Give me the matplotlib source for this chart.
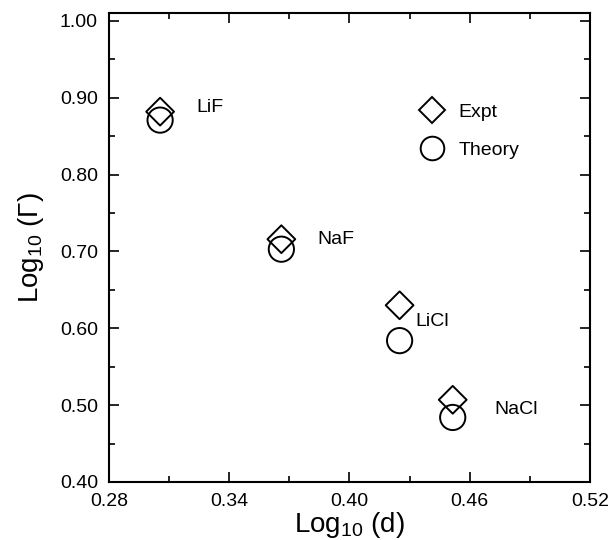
import matplotlib
matplotlib.use("Agg")
import matplotlib.pyplot as plt
from matplotlib.ticker import FixedLocator, FormatStrFormatter
from matplotlib.lines import Line2D

plt.rcParams['font.family'] = ['Liberation Sans', 'DejaVu Sans']
plt.rcParams['mathtext.fontset'] = 'custom'
plt.rcParams['mathtext.rm'] = 'Liberation Sans'
plt.rcParams['mathtext.it'] = 'Liberation Sans:italic'

salts = ["LiF", "NaF", "LiCl", "NaCl"]
log_d = [0.3055, 0.366, 0.425, 0.4515]
expt = [0.882, 0.716, 0.630, 0.507]
theory = [0.871, 0.703, 0.584, 0.484]
label_dx = [0.018, 0.018, 0.008, 0.021]
label_dy = [0.006, 0.0, -0.021, -0.012]

x_major = [0.28, 0.34, 0.40, 0.46, 0.52]
x_minor = [0.31, 0.37, 0.43, 0.49]
y_major = [0.40, 0.50, 0.60, 0.70, 0.80, 0.90, 1.00]
y_minor = [0.45, 0.55, 0.65, 0.75, 0.85, 0.95]

fig = plt.figure(figsize=(6.09, 5.40), dpi=100)
ax = fig.add_axes([109/609, 1-482/540, (590-109)/609, (482-13)/540])

ax.scatter(log_d, theory, marker='o', s=330, facecolors='none', edgecolors='black', linewidths=1.4, zorder=2)
ax.scatter(log_d, expt, marker='D', s=200, facecolors='none', edgecolors='black', linewidths=1.4, zorder=3)

for x, y, s, dx, dy in zip(log_d, expt, salts, label_dx, label_dy):
    ax.text(x + dx, y + dy, s, fontsize=14, va='center', ha='left')

handles = [Line2D([], [], marker='D', ls='none', mfc='none', mec='black', ms=13, mew=1.4),
           Line2D([], [], marker='o', ls='none', mfc='none', mec='black', ms=17, mew=1.4)]
ax.legend(handles, ["Expt", "Theory"], loc='upper left', bbox_to_anchor=(0.61, 0.845),
          frameon=False, fontsize=14, handletextpad=0.8, labelspacing=1.05, handlelength=1.2)

ax.set_xlim(0.28, 0.52)
ax.set_ylim(0.40, 1.0104)
ax.xaxis.set_major_locator(FixedLocator(x_major))
ax.xaxis.set_minor_locator(FixedLocator(x_minor))
ax.yaxis.set_major_locator(FixedLocator(y_major))
ax.yaxis.set_minor_locator(FixedLocator(y_minor))
ax.xaxis.set_major_formatter(FormatStrFormatter('%.2f'))
ax.yaxis.set_major_formatter(FormatStrFormatter('%.2f'))
ax.tick_params(which='both', direction='in', top=True, right=True, labelsize=14, width=1.2)
ax.tick_params(which='major', length=7, pad=8)
ax.tick_params(which='minor', length=4)
for sp in ax.spines.values():
    sp.set_linewidth(1.5)

ax.set_xlabel("Log$_{10}$ (d)", fontsize=20, labelpad=0)
ax.set_ylabel("Log$_{10}$ (Γ)", fontsize=20, labelpad=10)

fig.savefig("out.png", dpi=100)
